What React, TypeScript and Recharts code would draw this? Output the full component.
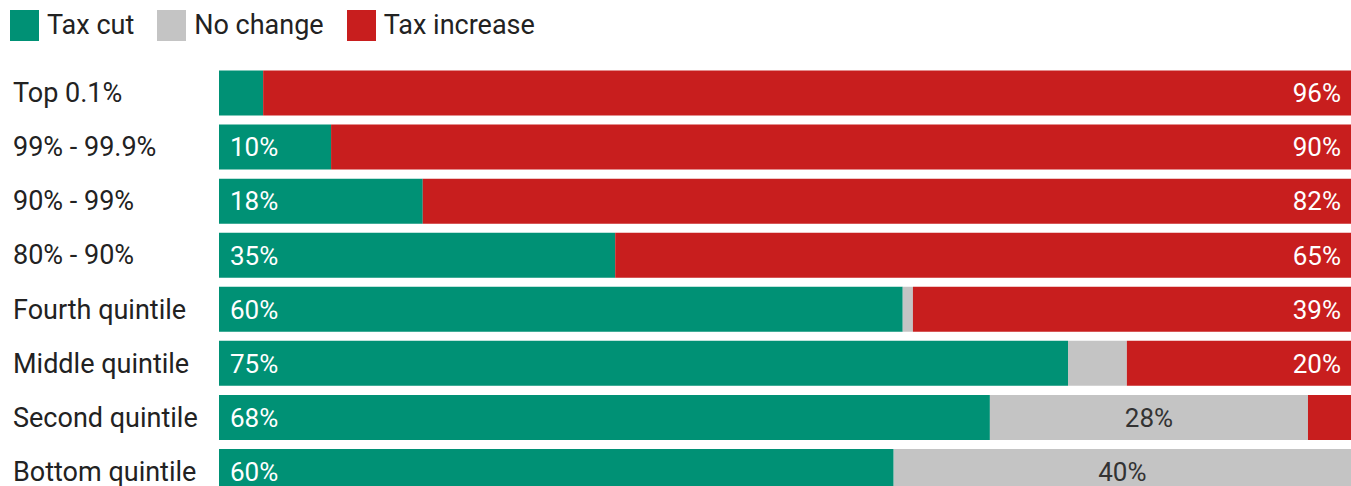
import React from "react";
import { BarChart, Bar, XAxis, YAxis, LabelList } from "recharts";

// income groups, top to bottom
const groups = [
  "Top 0.1%",
  "99% - 99.9%",
  "90% - 99%",
  "80% - 90%",
  "Fourth quintile",
  "Middle quintile",
  "Second quintile",
  "Bottom quintile",
];

// share of households in each group (%)
const taxCut = [3.9, 9.9, 18, 35, 60.4, 75, 68.1, 59.6];
const noChange = [0, 0, 0, 0, 0.9, 5.2, 28.1, 40.4];
const taxIncrease = [96.1, 90.1, 82, 65, 38.7, 19.8, 3.8, 0];

const GREEN = "#009175";
const GRAY = "#c4c4c4";
const RED = "#c81e1e";
const FONT = "Roboto, 'Noto Sans', sans-serif";

const data = groups.map((g, i) => ({
  group: g,
  cut: taxCut[i],
  none: noChange[i],
  increase: taxIncrease[i],
}));

const legendItems = [
  { label: "Tax cut", color: GREEN },
  { label: "No change", color: GRAY },
  { label: "Tax increase", color: RED },
];

const GroupTick = ({ y, payload }: any) => (
  <text
    x={13}
    y={y}
    dy="0.36em"
    textAnchor="start"
    fill="#222"
    fontSize={27}
    fontFamily={FONT}
  >
    {payload.value}
  </text>
);

// label renderer; align = where the text sits inside the segment
const makeLabel =
  (align: "start" | "middle" | "end", color: string) => (props: any) => {
    const { x, y, width, height, value } = props;
    if (value == null || value < 9) return null;
    let tx = x + 11;
    if (align === "middle") tx = x + width / 2;
    if (align === "end") tx = x + width - 10;
    return (
      <text
        x={tx}
        y={y + height / 2}
        dy="0.36em"
        textAnchor={align}
        fill={color}
        fontSize={26}
        fontFamily={FONT}
      >
        {Math.round(value)}%
      </text>
    );
  };

function Legend() {
  return (
    <div
      style={{
        position: "absolute",
        left: 10,
        top: 9,
        display: "flex",
        alignItems: "center",
        fontFamily: FONT,
        fontSize: 27,
        color: "#222",
      }}
    >
      {legendItems.map((it) => (
        <div
          key={it.label}
          style={{ display: "flex", alignItems: "center", marginRight: 23 }}
        >
          <span
            style={{
              display: "inline-block",
              width: 29,
              height: 31,
              background: it.color,
              marginRight: 8,
            }}
          />
          <span>{it.label}</span>
        </div>
      ))}
    </div>
  );
}

export default function App() {
  return (
    <div
      style={{
        position: "absolute",
        left: 0,
        top: 0,
        width: 1351,
        height: 486,
        overflow: "hidden",
        background: "#fff",
      }}
    >
      <Legend />
      <BarChart
        width={1351}
        height={498}
        data={data}
        layout="vertical"
        margin={{ top: 65.5, right: 0, bottom: 0, left: 0 }}
        barSize={45}
      >
        <XAxis type="number" domain={[0, 100]} hide />
        <YAxis
          type="category"
          dataKey="group"
          width={219}
          axisLine={false}
          tickLine={false}
          tick={<GroupTick />}
          interval={0}
        />
        <Bar dataKey="cut" stackId="a" fill={GREEN} isAnimationActive={false}>
          <LabelList dataKey="cut" content={makeLabel("start", "#fff")} />
        </Bar>
        <Bar dataKey="none" stackId="a" fill={GRAY} isAnimationActive={false}>
          <LabelList dataKey="none" content={makeLabel("middle", "#333")} />
        </Bar>
        <Bar
          dataKey="increase"
          stackId="a"
          fill={RED}
          isAnimationActive={false}
        >
          <LabelList dataKey="increase" content={makeLabel("end", "#fff")} />
        </Bar>
      </BarChart>
    </div>
  );
}
